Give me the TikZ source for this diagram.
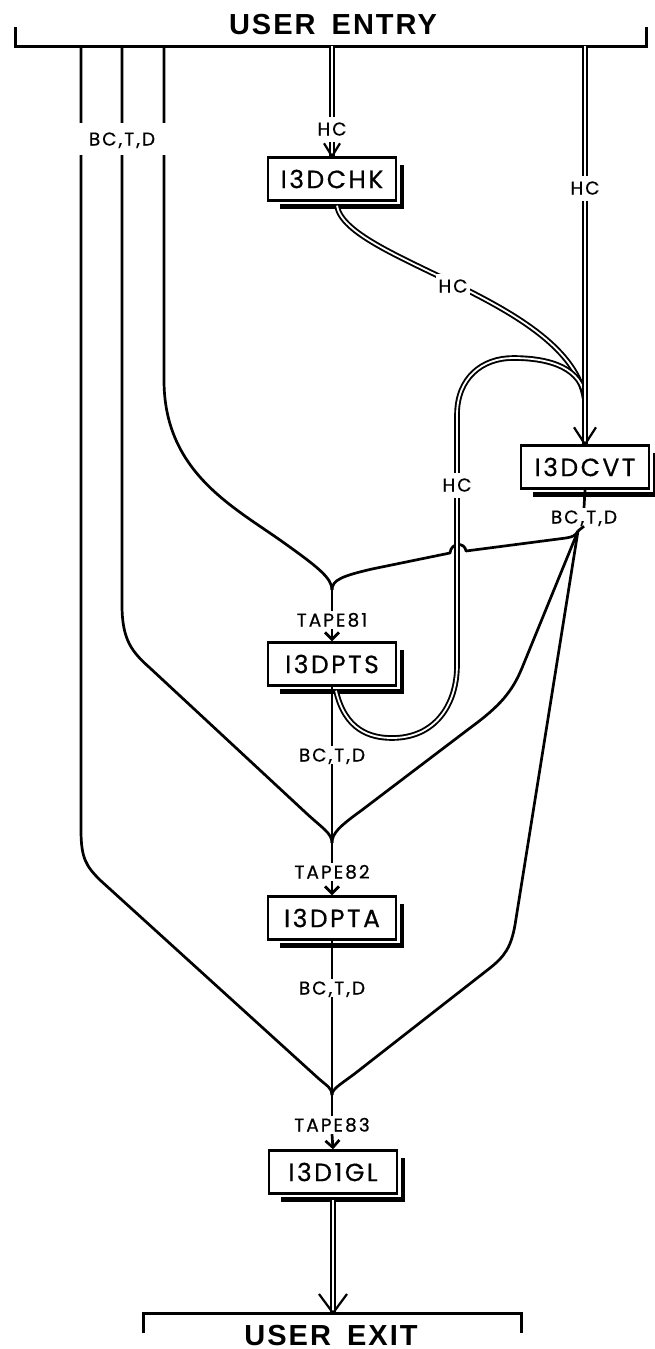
\documentclass[tikz,border=0pt]{standalone}
\usepackage{fontspec}
\setmainfont{Poppins}
\newfontfamily\labfont[LetterSpace=11,FakeBold=0.6]{Poppins}
\newfontfamily\boxfont[LetterSpace=10,FakeBold=0.4]{Poppins}
\newfontfamily\titlefont[LetterSpace=7]{Liberation Sans}
\usetikzlibrary{arrows.meta,calc}
\newcommand\boxshadow[1]{\draw[shad] ([xshift=13pt,yshift=-5pt]#1.south west) -- ([xshift=5pt,yshift=-5pt]#1.south east) -- ([xshift=5pt,yshift=-9pt]#1.north east);}
\begin{document}
\begin{tikzpicture}[x=1pt,y=-1pt,
  wire/.style={line width=2.7pt, line join=round},
  dbl/.style={double, double distance=1.8pt, line width=1.9pt},
  prog/.style={draw, line width=2.4pt, minimum width=128pt, minimum height=43pt, inner sep=0pt, font=\boxfont\fontsize{25}{25}\selectfont},
  lbl/.style={font=\labfont\fontsize{18.5}{18.5}\selectfont, inner sep=2.5pt, text height=13pt, text depth=0pt},
  lblw/.style={lbl, fill=white, inner ysep=6pt},
  shad/.style={line width=4.5pt, line join=miter},
  bar/.style={line width=3pt, line join=miter},
  title/.style={font=\titlefont\bfseries\fontsize{29}{29}\selectfont, inner sep=0pt},
  tip/.style={-{Straight Barb[length=7pt,width=14pt]}},
  vee/.style={line width=2.2pt, line join=miter}
]
\useasboundingbox (0,0) rectangle (654,1349);

% ---- titles and bars
\node[title] (entry) at (333,25) {USER\hspace{16pt}ENTRY};
\draw[bar] (15,27) -- (15,46) -- (646,46) -- (646,27);
\coordinate (e1) at (81,46);
\coordinate (e2) at (122,46);
\coordinate (e3) at (164,46);
\coordinate (ehc1) at (332,46);
\coordinate (ehc2) at (585,46);

\node[title] (exit) at (331,1335) {USER\hspace{16pt}EXIT};
\draw[bar] (143,1333) -- (143,1313) -- (521,1313) -- (521,1333);
\coordinate (xin) at (333,1313);

% ---- program boxes
\node[prog] (chk) at (332,179) {I3DCHK};
\node[prog] (cvt) at (585,467) {I3DCVT};
\node[prog] (pts) at (332,664) {I3DPTS};
\node[prog] (pta) at (332,918) {I3DPTA};
\node[prog] (gl)  at (333,1172) {I3D1GL};
\boxshadow{chk}
\boxshadow{cvt}
\boxshadow{pts}
\boxshadow{pta}
\boxshadow{gl}

% ---- junctions
\coordinate (J1) at (332,590);
\coordinate (J2) at (332,843);
\coordinate (J3) at (332,1095);
\coordinate (F) at (578,531);
\coordinate (M) at (585,400);

% ---- labels (single lines)
\node[lbl] (t81) at (332,620) {TAPE81};
\node[lbl] (t82) at (332,872) {TAPE82};
\node[lbl] (t83) at (332,1125) {TAPE83};
\node[lbl] (b1) at (332,755) {BC,T,D};
\node[lbl] (b2) at (332,988) {BC,T,D};
\node[lbl] (b3) at (584,517) {BC,T,D};

% ---- left bundle
\draw[wire] (e1) -- (81,830) .. controls (81,858) and (86,866) .. (100,880) -- (318,1078) .. controls (327,1086) and (332,1088) .. (J3);
\draw[wire] (e2) -- (122,605) .. controls (122,640) and (132,652) .. (150,668) -- (305,812) .. controls (322,828) and (332,833) .. (J2);
\draw[wire] (e3) -- (164,380) .. controls (164,470) and (230,505) .. (280,540) .. controls (318,567) and (332,578) .. (J1);
\node[lbl, fill=white, minimum width=96pt, minimum height=32pt] (b0) at (122,139) {BC,T,D};

% ---- fan from I3DCVT
\draw[wire] (cvt.south) -- (b3.north);
\draw[wire] (b3.south) -- (F);
\draw[wire] (F) .. controls (576,535) and (573,537) .. (566,538) -- (466,551) .. controls (465,542) and (451,542) .. (450,553) -- (372,569) .. controls (342,576) and (332,580) .. (J1);
\draw[wire] (F) -- (522,668) .. controls (512,692) and (500,706) .. (470,728) -- (362,810) .. controls (340,826) and (332,833) .. (J2);
\draw[wire] (F) -- (515,925) .. controls (511,947) and (505,956) .. (490,968) -- (362,1068) .. controls (342,1084) and (332,1088) .. (J3);

% ---- main chain
\draw[wire] (J1) -- (t81.north);
\draw[wire,tip] (t81.south) -- (pts.north);
\draw[wire] (pts.south) -- (b1.north);
\draw[wire] (b1.south) -- (J2);
\draw[wire] (J2) -- (t82.north);
\draw[wire,tip] (t82.south) -- (pta.north);
\draw[wire] (pta.south) -- (b2.north);
\draw[wire] (b2.south) -- (J3);
\draw[wire] (J3) -- (t83.north);
\draw[wire,tip] (t83.south) -- (gl.north);

% ---- HC double lines
\draw[dbl] ([xshift=5pt,yshift=-4pt]chk.south) .. controls (345,260) and (570,300) .. (M);
\draw[dbl] ([xshift=4pt,yshift=-4pt]pts.south) .. controls (345,730) and (370,738) .. (392,738) .. controls (435,738) and (457,705) .. (457,665) -- (457,415) .. controls (457,378) and (482,358) .. (513,358) .. controls (550,358) and (583,368) .. (M);
\draw[dbl] (ehc2) -- (cvt.north);
\draw[dbl] (ehc1) -- (chk.north);
\draw[dbl] ([yshift=-5pt]gl.south) -- (xin);
\draw[vee] ($(chk.north)+(-8,-13)$) -- (chk.north) -- ($(chk.north)+(8,-13)$);
\draw[vee] ($(cvt.north)+(-11,-17)$) -- (cvt.north) -- ($(cvt.north)+(11,-17)$);
\draw[vee] ($(xin)+(-14,-19)$) -- (xin) -- ($(xin)+(14,-19)$);

\node[lblw] (hc1) at (332,129) {HC};
\node[lblw] (hc2) at (585,188) {HC};
\node[lblw] (hc3) at (453,286) {HC};
\node[lblw] (hc4) at (457,485) {HC};
\end{tikzpicture}
\end{document}
